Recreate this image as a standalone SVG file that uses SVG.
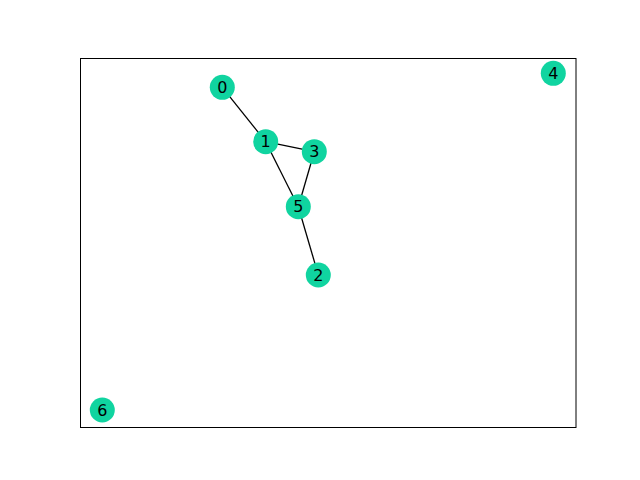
<svg xmlns="http://www.w3.org/2000/svg" width="640" height="480" viewBox="0 0 640 480">
<style>
.n circle{fill:#10d4a0}
.n text{font-family:"DejaVu Sans",sans-serif;font-size:16px;fill:#000;text-anchor:middle;dominant-baseline:central}
.e line{stroke:#000;stroke-width:1.3}
</style>
<rect x="0" y="0" width="640" height="480" fill="#fff"/>
<rect x="80.5" y="58.5" width="495.5" height="369" fill="none" stroke="#000" stroke-width="1"/>
<g id="edges" class="e">
<line x1="222.3" y1="87.3" x2="265.7" y2="141.7"/>
<line x1="265.7" y1="141.7" x2="314.3" y2="151.7"/>
<line x1="265.7" y1="141.7" x2="298.3" y2="206.7"/>
<line x1="314.3" y1="151.7" x2="298.3" y2="206.7"/>
<line x1="298.3" y1="206.7" x2="318.3" y2="275"/>
</g>
<g id="node0" class="n"><circle cx="222.3" cy="87.3" r="12.5"/><text x="222.3" y="87.3">0</text></g>
<g id="node1" class="n"><circle cx="265.7" cy="141.7" r="12.5"/><text x="265.7" y="141.7">1</text></g>
<g id="node2" class="n"><circle cx="318.3" cy="275" r="12.5"/><text x="318.3" y="275">2</text></g>
<g id="node3" class="n"><circle cx="314.3" cy="151.7" r="12.5"/><text x="314.3" y="151.7">3</text></g>
<g id="node4" class="n"><circle cx="553.3" cy="73.3" r="12.5"/><text x="553.3" y="73.3">4</text></g>
<g id="node5" class="n"><circle cx="298.3" cy="206.7" r="12.5"/><text x="298.3" y="206.7">5</text></g>
<g id="node6" class="n"><circle cx="102.3" cy="410" r="12.5"/><text x="102.3" y="410">6</text></g>
</svg>
